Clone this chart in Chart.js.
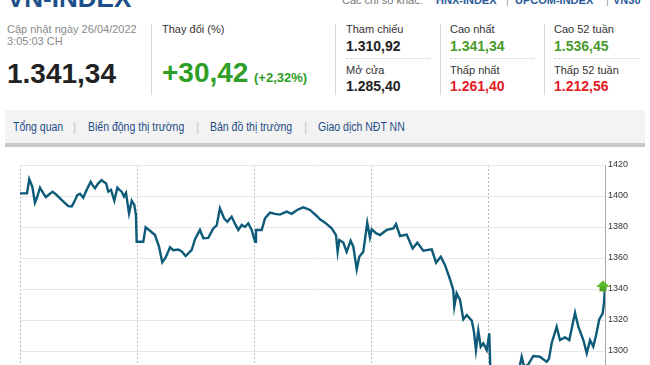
<!DOCTYPE html>
<html><head><meta charset="utf-8">
<script src="https://cdn.jsdelivr.net/npm/chart.js@4/dist/chart.umd.min.js"></script>
<style>
html,body{margin:0;padding:0;width:650px;height:365px;overflow:hidden;background:#fff;font-family:Arial,"Liberation Sans",sans-serif;}
.a{position:absolute;white-space:nowrap;line-height:1;}
.lbl{font-size:11px;color:#333;}
.num{font-size:14px;font-weight:bold;color:#222;}
.g{color:#4a9a2c;}
.r{color:#e3201f;}
.sep{position:absolute;width:1px;background:#d6d6d6;top:24px;height:71px;}
.dot{position:absolute;height:0;border-top:1px dotted #c8c8c8;top:58px;}
.tab{position:absolute;top:121px;font-size:12.5px;color:#1d4c86;line-height:1;white-space:nowrap;transform:scaleX(.84);transform-origin:left center;}
.bar{position:absolute;top:121px;font-size:12px;color:#c4c4c4;line-height:1;}
</style></head><body>
<div class="a" style="left:7px;top:-15px;font-size:26px;font-weight:bold;color:#1c4f8a;">VN-INDEX</div>
<div class="a" style="left:342px;top:-5px;font-size:11px;color:#777;">Các chỉ số khác:</div>
<div class="a" style="left:436px;top:-5px;font-size:11px;font-weight:bold;color:#2a5a9a;">HNX-INDEX</div>
<div class="a" style="left:506px;top:-5px;font-size:11px;color:#999;">|</div>
<div class="a" style="left:515px;top:-5px;font-size:11px;font-weight:bold;color:#2a5a9a;">UPCOM-INDEX</div>
<div class="a" style="left:606px;top:-5px;font-size:11px;color:#999;">|</div>
<div class="a" style="left:613px;top:-5px;font-size:11px;font-weight:bold;color:#2a5a9a;">VN30</div>

<div class="a" style="left:7px;top:24px;font-size:11px;color:#8a8a8a;">Cập nhật ngày 26/04/2022</div>
<div class="a" style="left:7px;top:36px;font-size:11px;color:#8a8a8a;">3:05:03 CH</div>
<div class="a" style="left:7px;top:59.5px;font-size:28px;font-weight:bold;color:#222;">1.341,34</div>
<div class="sep" style="left:151px;"></div>
<div class="a lbl" style="left:162px;top:24px;">Thay đổi (%)</div>
<div class="a" style="left:162px;top:59px;font-size:28px;font-weight:bold;color:#2f9e26;">+30,42</div>
<div class="a" style="left:254px;top:70.5px;font-size:13px;font-weight:bold;color:#2f9e26;">(+2,32%)</div>

<div class="sep" style="left:335px;"></div>
<div class="sep" style="left:440px;"></div>
<div class="sep" style="left:544px;"></div>
<div class="a lbl" style="left:346px;top:24px;">Tham chiếu</div>
<div class="a num" style="left:346px;top:39px;">1.310,92</div>
<div class="dot" style="left:346px;width:84px;"></div>
<div class="a lbl" style="left:346px;top:65px;">Mở cửa</div>
<div class="a num" style="left:346px;top:79px;">1.285,40</div>

<div class="a lbl" style="left:450px;top:24px;">Cao nhất</div>
<div class="a num g" style="left:450px;top:39px;">1.341,34</div>
<div class="dot" style="left:450px;width:84px;"></div>
<div class="a lbl" style="left:450px;top:65px;">Thấp nhất</div>
<div class="a num r" style="left:450px;top:79px;">1.261,40</div>

<div class="a lbl" style="left:554px;top:24px;">Cao 52 tuần</div>
<div class="a num g" style="left:554px;top:39px;">1.536,45</div>
<div class="dot" style="left:554px;width:86px;"></div>
<div class="a lbl" style="left:554px;top:65px;">Thấp 52 tuần</div>
<div class="a num r" style="left:554px;top:79px;">1.212,56</div>

<div style="position:absolute;left:5px;top:110px;width:640px;height:33px;background:#f3f3f3;"></div>
<div style="position:absolute;left:5px;top:143px;width:640px;height:4px;background:#c9c9c9;"></div>
<div class="tab" style="left:13px;">Tổng quan</div>
<div class="bar" style="left:73px;">|</div>
<div class="tab" style="left:88px;">Biến động thị trường</div>
<div class="bar" style="left:196px;">|</div>
<div class="tab" style="left:210px;">Bản đồ thị trường</div>
<div class="bar" style="left:304px;">|</div>
<div class="tab" style="left:318px;">Giao dịch NĐT NN</div>

<canvas id="c" width="650" height="273" style="position:absolute;left:0;top:150px;width:650px;height:273px;"></canvas>
<script>
// Time position in trading days (0 = first session open, 5 = last session close)
const dayPos = [
 0,0.060,0.079,0.105,0.128,0.145,0.171,0.197,0.222,0.248,0.279,0.308,0.342,0.376,0.413,0.442,0.462,0.490,0.513,0.541,0.564,0.604,0.624,0.641,0.667,0.698,0.718,0.735,0.755,0.778,0.806,0.832,0.850,0.869,0.889,0.906,0.932,0.955,0.977,0.991,0.997,
 1.054,1.074,1.111,1.154,1.188,1.216,1.245,1.282,1.310,1.353,1.382,1.416,1.468,1.496,1.538,1.567,1.609,1.652,1.681,1.709,1.744,1.772,1.809,1.838,1.866,1.895,1.923,1.951,1.980,2.009,2.017,
 2.066,2.094,2.137,2.179,2.222,2.279,2.322,2.368,2.421,2.479,2.536,2.564,2.607,2.664,2.701,2.715,2.729,2.763,2.792,2.826,2.849,2.878,2.900,2.934,2.968,2.991,
 3.006,3.043,3.077,3.134,3.191,3.214,3.248,3.305,3.356,3.396,3.447,3.519,3.556,3.596,3.632,3.675,3.703,3.712,3.732,3.761,3.789,3.818,3.861,3.880,3.897,3.917,3.938,3.960,3.989,4.011,
 4.021,4.060,4.103,4.145,4.188,4.231,4.265,4.288,4.308,4.342,4.387,4.444,4.502,4.521,4.544,4.587,4.615,4.658,4.695,4.744,4.772,4.815,4.844,4.872,4.900,4.923,4.951,4.980,4.991,5.000
];
const indexValues = [
 1401.7,1401.7,1410.8,1406,1395.7,1399,1405.4,1402,1399.2,1401,1402.8,1401,1398.5,1396,1393.5,1393.3,1396,1400.6,1401.5,1398.9,1403,1409.2,1406.5,1405,1408,1410.3,1409,1408.2,1402.8,1404,1397,1405.4,1404,1402.8,1399.6,1402,1388.8,1397,1394.2,1387.7,1370.5,
 1370.5,1379.8,1377.6,1374.8,1367.3,1357.2,1360.4,1366.9,1365,1365.5,1364.2,1361.3,1365.2,1372.1,1378.1,1372.7,1373,1379.1,1381,1392,1385.6,1383.4,1386.7,1382,1378.1,1381.3,1380,1382.4,1378.1,1370.5,1378.1,
 1378.1,1385.6,1389.3,1388.5,1388,1389.9,1388.5,1391,1392.7,1391,1387.1,1385,1382.8,1379.1,1374.8,1364,1371.6,1370,1364,1371.2,1367.3,1352.7,1360.8,1364,1382.8,1373.3,
 1378.5,1376,1374.8,1378.1,1379.1,1381.9,1374.2,1375.1,1366.2,1369.9,1364.7,1365.6,1357,1360.8,1355.5,1346.3,1339.4,1328.6,1337.2,1332.9,1320.4,1323.2,1319.6,1312.5,1300.6,1313.1,1302.8,1305,1300.6,1311.4,
 1285,1272,1263,1261.4,1268,1280,1288,1296.3,1290,1291,1296.8,1296.3,1293,1295,1305,1315.7,1307.1,1308.8,1307.1,1324.7,1315.7,1307.1,1298.5,1307,1302.8,1310,1320.4,1324.3,1331,1341.34
];
const yTickValues = [1260,1280,1300,1320,1340,1360,1380,1400,1420];
const tradingDays = 5;

const points = dayPos.map((d,i)=>({x:d, y:indexValues[i]}));

const arrowPlugin = {
  id:'lastArrow',
  afterDraw(chart){
    const meta = chart.getDatasetMeta(0);
    const p = meta.data[meta.data.length-1];
    const ctx = chart.ctx;
    const cx = p.x - 2, cy = p.y;
    ctx.save();
    ctx.fillStyle = '#5cb82c';
    ctx.beginPath();
    ctx.moveTo(cx-7, cy);
    ctx.lineTo(cx, cy-6.5);
    ctx.lineTo(cx+7, cy);
    ctx.closePath();
    ctx.fill();
    ctx.fillStyle = '#4fa824';
    ctx.fillRect(cx-3.5, cy, 7, 4.5);
    ctx.restore();
  }
};

new Chart(document.getElementById('c'), {
  type:'line',
  data:{datasets:[{
    data:points,
    borderColor:'#0d5a79',
    borderWidth:2.4,
    pointRadius:0,
    tension:0,
    fill:false
  }]},
  options:{
    responsive:false,
    animation:false,
    devicePixelRatio:1,
    layout:{padding:{left:20,top:15,right:0,bottom:10}},
    plugins:{legend:{display:false},tooltip:{enabled:false}},
    scales:{
      x:{
        type:'linear', min:0, max:tradingDays,
        ticks:{display:false, stepSize:1},
        grid:{color:'#bdbdbd', drawTicks:false, lineWidth:1},
        border:{display:false, dash:[2,2]}
      },
      y:{
        position:'right',
        min:yTickValues[0], max:yTickValues[yTickValues.length-1],
        afterBuildTicks(s){ s.ticks = yTickValues.map(v=>({value:v})); },
        afterFit(s){ s.width = 45; },
        ticks:{color:'#333', font:{family:'Arial', size:9}, padding:3, callback:v=>String(v)},
        grid:{color:'#e8e8e8', drawTicks:false, lineWidth:1},
        border:{display:true, color:'#a8a8a8', width:1}
      }
    }
  },
  plugins:[arrowPlugin]
});
</script>
</body></html>
